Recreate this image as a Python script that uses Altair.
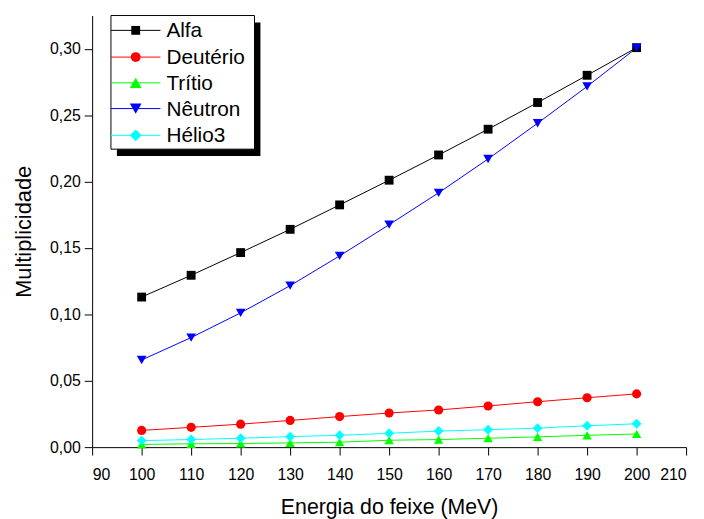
import altair as alt
import pandas as pd

energia = [100, 110, 120, 130, 140, 150, 160, 170, 180, 190, 200]
alfa = [0.113, 0.1294, 0.1465, 0.164, 0.1824, 0.201, 0.220, 0.2394, 0.2595, 0.280, 0.3008]
deuterio = [0.0126, 0.0149, 0.0173, 0.0201, 0.0230, 0.0257, 0.0280, 0.0310, 0.0342, 0.0372, 0.0401]
tritio = [0.0020, 0.0025, 0.0027, 0.0032, 0.0037, 0.0052, 0.0057, 0.0067, 0.0077, 0.0089, 0.0099]
neutron = [0.0656, 0.0825, 0.1011, 0.1216, 0.1440, 0.1675, 0.1915, 0.2170, 0.2439, 0.2716, 0.3006]
helio3 = [0.0049, 0.0057, 0.0067, 0.0079, 0.0089, 0.0104, 0.0121, 0.0131, 0.0143, 0.0161, 0.0176]

series_names = ["Alfa", "Deutério", "Trítio", "Nêutron", "Hélio3"]
series_values = [alfa, deuterio, tritio, neutron, helio3]
series_colors = ["#000000", "#FF0000", "#00FF00", "#0000FF", "#00FFFF"]
series_shapes = ["square", "circle", "triangle-up", "triangle-down", "diamond"]
series_sizes = [80, 100, 140, 140, 140]

x_ticks = list(range(90, 211, 5))
y_ticks = [round(i * 0.025, 3) for i in range(13)]

FONT = "Liberation Sans"

rows = []
for name, vals in zip(series_names, series_values):
    for e, v in zip(energia, vals):
        rows.append({"serie": name, "energia": e, "mult": v})
df = pd.DataFrame(rows)

x_enc = alt.X(
    "energia:Q",
    scale=alt.Scale(domain=[90, 210], nice=False, zero=False),
    axis=alt.Axis(
        values=x_ticks,
        title="Energia do feixe (MeV)",
        labelExpr="datum.value % 10 == 0 ? datum.label : ''",
        tickSize={"condition": {"test": "datum.value % 10 == 0", "value": 8}, "value": 4},
        labelPadding=12,
        titlePadding=14,
        titleFontSize=21.5,
        grid=False,
    ),
)
y_enc = alt.Y(
    "mult:Q",
    scale=alt.Scale(domain=[0, 0.325], nice=False, zero=True),
    axis=alt.Axis(
        values=y_ticks,
        title="Multiplicidade",
        labelExpr="round(datum.value*1000) % 50 == 0 ? replace(format(datum.value, '.2f'), '.', ',') : ''",
        tickSize={"condition": {"test": "round(datum.value*1000) % 50 == 0", "value": 8}, "value": 4},
        labelPadding=4,
        titlePadding=14,
        titleFontSize=22,
        grid=False,
    ),
)

color_scale = alt.Scale(domain=series_names, range=series_colors)
shape_scale = alt.Scale(domain=series_names, range=series_shapes)
size_scale = alt.Scale(domain=series_names, range=series_sizes)

base = alt.Chart(df)
lines = base.mark_line(strokeWidth=1).encode(
    x=x_enc, y=y_enc,
    color=alt.Color("serie:N", scale=color_scale, legend=None),
    detail="serie:N",
)
points = base.mark_point(filled=True, opacity=1).encode(
    x="energia:Q", y="mult:Q",
    color=alt.Color("serie:N", scale=color_scale, legend=None),
    shape=alt.Shape("serie:N", scale=shape_scale, legend=None),
    size=alt.Size("serie:N", scale=size_scale, legend=None),
)

# manual legend (positions in pixels relative to plot area)
one = alt.Chart(pd.DataFrame({"k": [0]}))
box_x0, box_x1, box_y0, box_y1 = 19, 164, 0, 135
legend_layers = [
    one.mark_rect(color="black").encode(
        x=alt.value(box_x0 + 6), x2=alt.value(box_x1 + 6),
        y=alt.value(box_y0 + 7), y2=alt.value(box_y1 + 7)),
    one.mark_rect(fill="white", stroke="black", strokeWidth=1).encode(
        x=alt.value(box_x0), x2=alt.value(box_x1),
        y=alt.value(box_y0), y2=alt.value(box_y1)),
]
entry_y = [15, 42, 68, 94, 121]
for name, col, shp, sz, yy in zip(series_names, series_colors, series_shapes, series_sizes, entry_y):
    legend_layers.append(one.mark_rule(color=col, strokeWidth=1).encode(
        x=alt.value(box_x0), x2=alt.value(69), y=alt.value(yy)))
    legend_layers.append(one.mark_point(filled=True, opacity=1, color=col, shape=shp, size=sz).encode(
        x=alt.value(44), y=alt.value(yy)))
    legend_layers.append(one.mark_text(align="left", baseline="middle", font=FONT, fontSize=21,
                                       color="black").encode(
        x=alt.value(75), y=alt.value(yy + 1), text=alt.value(name)))

chart = alt.layer(lines, points, *legend_layers).properties(
    width=600, height=436,
    autosize=alt.AutoSizeParams(type="none"),
    padding={"left": 85, "top": 5, "right": 10, "bottom": 70},
).configure_view(stroke=None).configure_axis(
    labelFont=FONT, titleFont=FONT, labelFontSize=16,
    labelColor="black", titleColor="black", titleFontWeight="normal",
    domainColor="black", tickColor="black", domainWidth=1, tickWidth=1,
)

chart.save("out.html", embed_options={"renderer": "svg", "actions": False})
